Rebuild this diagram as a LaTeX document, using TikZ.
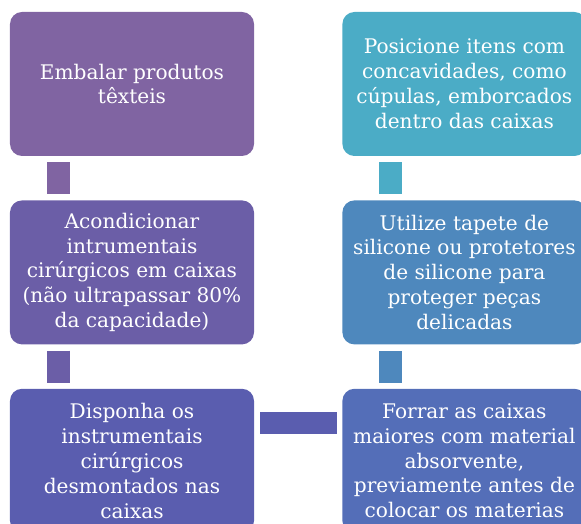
\documentclass[tikz,border=0pt]{standalone}
\usepackage{fontspec}
\setmainfont{DejaVu Serif}
\usetikzlibrary{positioning}
\definecolor{plum}{HTML}{8064A2}
\definecolor{iris}{HTML}{6B5EA7}
\definecolor{indigo}{HTML}{5A5DAF}
\definecolor{cobalt}{HTML}{546EB8}
\definecolor{steel}{HTML}{4E88BD}
\definecolor{aqua}{HTML}{4BACC6}

\begin{document}
\begin{tikzpicture}[x=1bp,y=-1bp,node distance=44bp and 88bp,
    box/.style={rounded corners=12bp,minimum width=244bp,minimum height=144bp,
      align=center,text=white,inner sep=2bp,font=\fontsize{20.2}{25}\selectfont},
    bar/.style={line width=23bp}]
    \useasboundingbox (0,0) rectangle (581,524);
    \node[box,fill=plum] (emb) at (132,84) {Embalar produtos\\têxteis};
    \node[box,fill=iris,below=of emb] (acond) {Acondicionar\\intrumentais\\cirúrgicos em caixas\\(não ultrapassar 80\%\\da capacidade)};
    \node[box,fill=indigo,below=of acond] (disp) {Disponha os\\instrumentais\\cirúrgicos\\desmontados nas\\caixas};
    \node[box,fill=cobalt,right=of disp] (forr) {Forrar as caixas\\maiores com material\\absorvente,\\previamente antes de\\colocar os materias};
    \node[box,fill=steel,above=of forr] (util) {Utilize tapete de\\silicone ou protetores\\de silicone para\\proteger peças\\delicadas};
    \node[box,fill=aqua,above=of util] (pos) {Posicione itens com\\concavidades, como\\cúpulas, emborcados\\dentro das caixas};
    \draw[bar,plum] ([xshift=-73.5bp,yshift=-6bp]emb.south) -- ([xshift=-73.5bp,yshift=6bp]acond.north);
    \draw[bar,iris] ([xshift=-73.5bp,yshift=-6bp]acond.south) -- ([xshift=-73.5bp,yshift=6bp]disp.north);
    \draw[line width=22bp,indigo] ([xshift=6bp,yshift=38bp]disp.east) -- ([xshift=-5bp,yshift=38bp]forr.west);
    \draw[bar,steel] ([xshift=-73.5bp,yshift=6bp]forr.north) -- ([xshift=-73.5bp,yshift=-6bp]util.south);
    \draw[bar,aqua] ([xshift=-73.5bp,yshift=6bp]util.north) -- ([xshift=-73.5bp,yshift=-6bp]pos.south);
  \end{tikzpicture}
\end{document}
